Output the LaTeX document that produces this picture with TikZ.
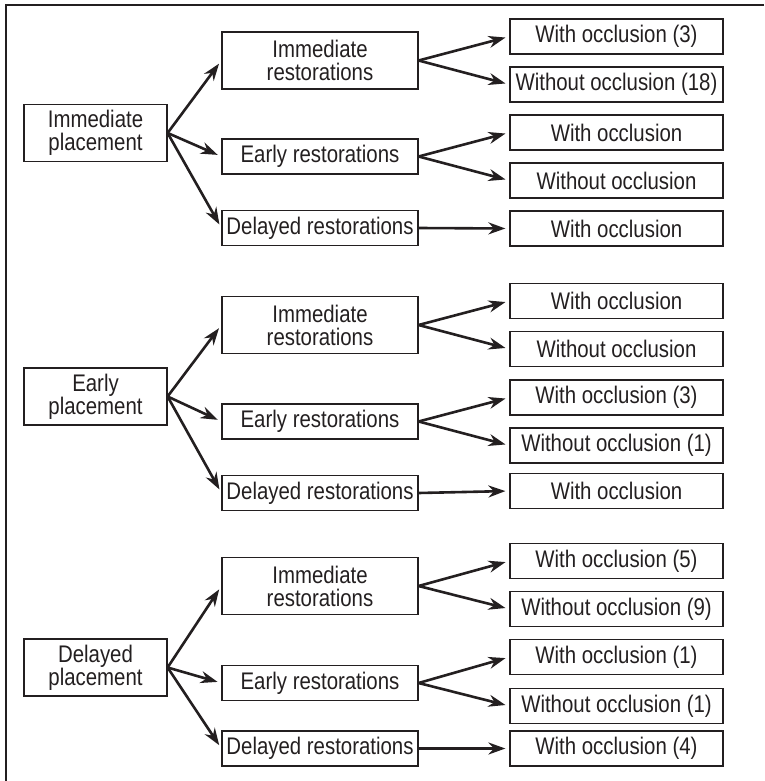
\documentclass[tikz,border=0pt]{standalone}
\usepackage{fontspec}
\setmainfont[FakeStretch=0.85]{Liberation Sans}
\usetikzlibrary{positioning,arrows.meta}
\definecolor{ink}{HTML}{231F20}

\begin{document}
\begin{tikzpicture} [x=1pt,y=1pt,
        box/.style={draw=ink,line width=1.2pt,inner sep=0pt,align=center,text=ink,font=\fontsize{24}{23}\selectfont},
        place/.style={box,minimum width=143pt,minimum height=57pt},
        restw/.style={box,minimum width=196pt,minimum height=57pt},
        rest/.style={box,minimum width=196pt,minimum height=35pt},
        leaf/.style={box,minimum width=213pt,minimum height=35pt},
        link/.style={color=ink,line width=2.6pt,-{Stealth[length=17pt,width=12pt]},shorten >=4pt}]
        \useasboundingbox (0,0) rectangle (764,-781);
        \draw[ink,line width=1.5pt] (764,-5) -- (6,-5) -- (6,-781);

        \node[place] at (95.5,-133) (p1) {Immediate\\placement};
        \node[restw] at (320,-60.5) (r1a) {Immediate\\restorations};
        \node[rest] at (320,-156.5) (r1b) {Early restorations};
        \node[rest] at (320,-228) (r1c) {Delayed restorations};
        \node[leaf] at (616.5,-36.5) (w1a) {With occlusion (3)};
        \node[leaf] at (616.5,-84.5) (w1b) {Without occlusion (18)};
        \node[leaf] at (616.5,-132.5) (w1c) {With occlusion};
        \node[leaf] at (616.5,-180.5) (w1d) {Without occlusion};
        \node[leaf] at (616.5,-228.5) (w1e) {With occlusion};

        \node[place] at (95.5,-396.5) (p2) {Early\\placement};
        \node[restw] at (320,-325) (r2a) {Immediate\\restorations};
        \node[rest] at (320,-421.5) (r2b) {Early restorations};
        \node[rest] at (320,-493) (r2c) {Delayed restorations};
        \node[leaf] at (616.5,-301) (w2a) {With occlusion};
        \node[leaf] at (616.5,-349) (w2b) {Without occlusion};
        \node[leaf] at (616.5,-397.5) (w2c) {With occlusion (3)};
        \node[leaf] at (616.5,-445.5) (w2d) {Without occlusion (1)};
        \node[leaf] at (616.5,-491) (w2e) {With occlusion};

        \node[place] at (95.5,-667.5) (p3) {Delayed\\placement};
        \node[restw] at (320,-586) (r3a) {Immediate\\restorations};
        \node[rest] at (320,-683) (r3b) {Early restorations};
        \node[rest] at (320,-748.5) (r3c) {Delayed restorations};
        \node[leaf] at (616.5,-561) (w3a) {With occlusion (5)};
        \node[leaf] at (616.5,-609) (w3b) {Without occlusion (9)};
        \node[leaf] at (616.5,-657) (w3c) {With occlusion (1)};
        \node[leaf] at (616.5,-706) (w3d) {Without occlusion (1)};
        \node[leaf] at (616.5,-748.5) (w3e) {With occlusion (4)};

        \draw[link] (p1.east) -- (r1a.west);
        \draw[link] (p1.east) -- (r1b.west);
        \draw[link] (p1.east) -- (r1c.west);
        \draw[link] (r1a.east) -- (w1a.west);
        \draw[link] (r1a.east) -- (w1b.west);
        \draw[link] (r1b.east) -- (w1c.west);
        \draw[link] (r1b.east) -- (w1d.west);
        \draw[link] (r1c.east) -- (w1e.west);
        \draw[link] (p2.east) -- (r2a.west);
        \draw[link] (p2.east) -- (r2b.west);
        \draw[link] (p2.east) -- (r2c.west);
        \draw[link] (r2a.east) -- (w2a.west);
        \draw[link] (r2a.east) -- (w2b.west);
        \draw[link] (r2b.east) -- (w2c.west);
        \draw[link] (r2b.east) -- (w2d.west);
        \draw[link] (r2c.east) -- (w2e.west);
        \draw[link] (p3.east) -- (r3a.west);
        \draw[link] (p3.east) -- (r3b.west);
        \draw[link] (p3.east) -- (r3c.west);
        \draw[link] (r3a.east) -- (w3a.west);
        \draw[link] (r3a.east) -- (w3b.west);
        \draw[link] (r3b.east) -- (w3c.west);
        \draw[link] (r3b.east) -- (w3d.west);
        \draw[link] (r3c.east) -- (w3e.west);
    \end{tikzpicture}
\end{document}
